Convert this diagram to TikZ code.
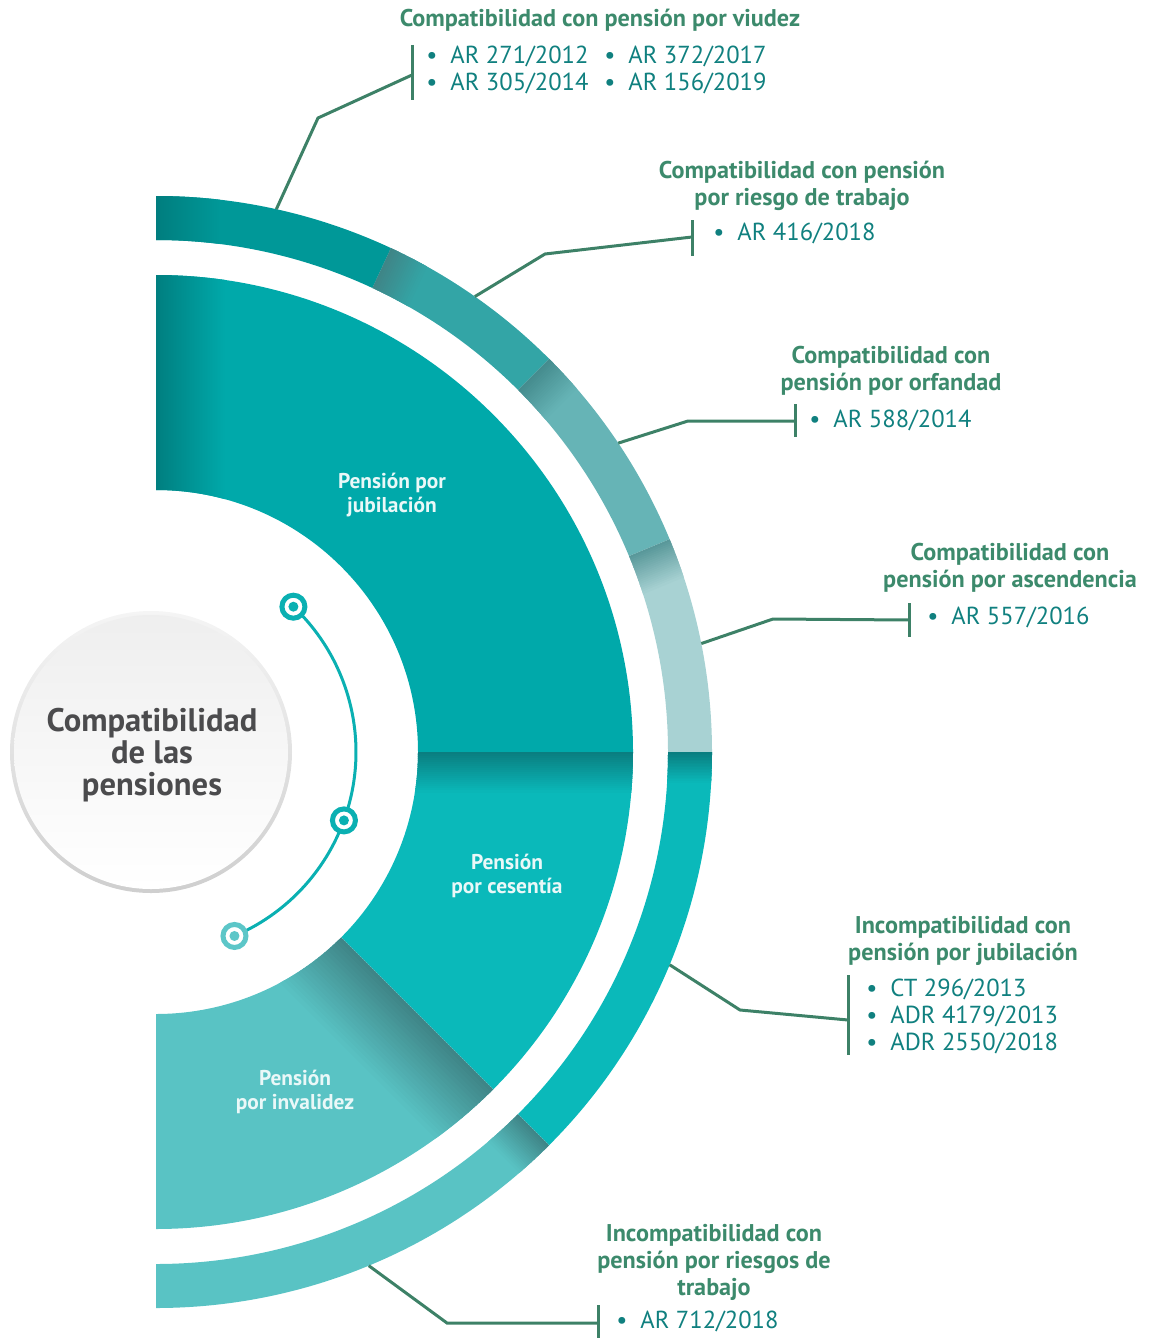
\documentclass[tikz,border=0pt]{standalone}
\usepackage{fontspec}
\setmainfont{PT Sans}
\usetikzlibrary{calc, positioning}

\definecolor{viudez}{HTML}{009898}
\definecolor{riesgo}{HTML}{33A5A6}
\definecolor{orfandad}{HTML}{66B4B6}
\definecolor{ascend}{HTML}{A8D2D3}
\definecolor{jubila}{HTML}{00A9AA}
\definecolor{cesan}{HTML}{0AB9BA}
\definecolor{invali}{HTML}{59C3C4}
\definecolor{deepteal}{HTML}{007B7C}
\definecolor{seamdark}{HTML}{0A7E80}
\definecolor{seamgray}{HTML}{3F8587}
\definecolor{leafgreen}{HTML}{3C8A6C}
\definecolor{codeteal}{HTML}{10807F}
\definecolor{wiregreen}{HTML}{3D8167}
\definecolor{knobteal}{HTML}{0AB0B2}
\definecolor{knoblight}{HTML}{5CC6C8}
\definecolor{coregray}{HTML}{4B4B4D}
\definecolor{wedgetext}{HTML}{EAF8F8}

\newcommand{\wedgepath}[4]{($(o)+(#1:#3)$) arc[start angle=#1, end angle=#2, radius=#3]
    -- ($(o)+(#2:#4)$) arc[start angle=#2, end angle=#1, radius=#4] -- cycle}
\newcommand{\segment}[6]{
    \fill[#6] \wedgepath{#2}{#3}{#4}{#5};
    \coordinate (#1-m) at ($(o)+({(#2+#3)/2}:#5)$);
}
% soft shadow along a seam, drawn as thin strips
\newcommand{\seamshade}[8]{
    \begin{scope}
        \clip \wedgepath{#1}{#2}{#3}{#4};
        \begin{scope}[shift={(o)}, rotate=#5]
            \foreach \i in {0,...,19}{
                \pgfmathsetmacro{\p}{100-\i*5}
                \fill[#7!\p!#8] (#3-20,{-\i*#6/20}) rectangle (#4+20,{-(\i+1)*#6/20-0.6});
            }
        \end{scope}
    \end{scope}
}
\newcommand{\leader}[5]{
    \coordinate (#1-k) at (#2);
    \coordinate (#1-u) at (#3);
    \coordinate (#1-d) at (#4);
    \coordinate (#1-j) at (#5);
    \draw[wire] (#1-u) -- (#1-d);
    \draw[wire] (#1-m) -- (#1-k) -- (#1-j);
}
\newcommand{\bul}{\makebox[12pt][l]{\textbullet}}

\begin{document}
\begin{tikzpicture}[x=0.5pt, y=0.5pt,
    wire/.style={draw=wiregreen, line width=1.5pt},
    heading/.style={text=leafgreen, font=\bfseries\fontsize{12.1}{13.5}\selectfont, align=center, inner sep=0pt},
    code/.style={text=codeteal, font=\fontsize{12.3}{13.5}\selectfont, align=left, anchor=west, inner sep=0pt},
    wedgelabel/.style={text=wedgetext, font=\bfseries\fontsize{10.7}{12}\selectfont, align=center, inner sep=0pt},
    knob/.style={circle, draw=#1, fill=white, line width=2.5pt, minimum size=11.5pt, inner sep=0pt,
        path picture={\fill[#1] (path picture bounding box.center) circle[radius=2.5pt];}}]
\useasboundingbox (0,0) rectangle (1152,-1338);
\coordinate (o) at (156,-752);

% inner wedges
\segment{jub}{90}{0}{262}{477}{jubila}
\segment{ces}{0}{-45}{262}{477}{cesan}
\segment{inv}{-45}{-90}{262}{477}{invali}
\begin{scope}
    \clip \wedgepath{90}{0}{262}{477};
    \shade[left color=deepteal, right color=jubila] (150,-270) rectangle (225,-760);
\end{scope}
\seamshade{0}{-45}{262}{477}{0}{40}{seamdark}{cesan}
\seamshade{-45}{-90}{262}{477}{-45}{75}{seamgray}{invali}

% outer ring
\segment{viu}{90}{65}{512}{556}{viudez}
\segment{rie}{65}{45}{512}{556}{riesgo}
\segment{orf}{45}{22.5}{512}{556}{orfandad}
\segment{asc}{22.5}{0}{512}{556}{ascend}
\segment{inj}{0}{-45}{512}{556}{cesan}
\segment{inr}{-45}{-90}{512}{556}{invali}
\begin{scope}
    \clip \wedgepath{90}{65}{512}{556};
    \shade[left color=deepteal, right color=viudez] (150,-190) rectangle (220,-250);
\end{scope}
\seamshade{65}{45}{512}{556}{65}{40}{seamgray}{riesgo}
\seamshade{45}{22.5}{512}{556}{45}{40}{seamgray!85!orfandad}{orfandad}
\seamshade{22.5}{0}{512}{556}{22.5}{40}{seamgray!75!ascend}{ascend}
\seamshade{0}{-45}{512}{556}{0}{30}{seamdark}{cesan}
\seamshade{-45}{-90}{512}{556}{-45}{40}{seamgray}{invali}

\node[wedgelabel] (jub-t) at (392,-495) {Pensión por\\jubilación};
\node[wedgelabel] (ces-t) at (507,-876) {Pensión\\por cesentía};
\node[wedgelabel] (inv-t) at (295,-1092) {Pensión\\por invalidez};

% centre
\coordinate (core-c) at (151,-752);
\shade[top color=gray!8, bottom color=gray!38] (core-c) circle[radius=141];
\shade[shading angle=-45, top color=gray!13, bottom color=white] (core-c) circle[radius=137];
\node[text=coregray, font=\bfseries\fontsize{16.3}{16}\selectfont, align=center] (core) at (152,-755)
    {Compatibilidad\\de las\\pensiones};

\draw[knobteal, line width=1.5pt] ($(o)+(46.6:200)$) arc[start angle=46.6, end angle=-66.9, radius=200];
\node[knob=knobteal] (knob-1) at ($(o)+(46.6:200)$) {};
\node[knob=knobteal] (knob-2) at ($(o)+(-20:200)$) {};
\node[knob=knoblight] (knob-3) at ($(o)+(-66.9:200)$) {};

% callouts
\node[heading] (viu-t) at (600,-20) {Compatibilidad con pensión por viudez};
\node[code] (viu-a) at (426,-70) {\bul AR 271/2012\\\bul AR 305/2014};
\node[code] (viu-b) at (604,-70) {\bul AR 372/2017\\\bul AR 156/2019};
\leader{viu}{318,-118}{412,-45}{412,-100}{412,-75}

\node[heading] (rie-t) at (802,-186) {Compatibilidad con pensión\\por riesgo de trabajo};
\node[code] (rie-a) at (713,-233) {\bul AR 416/2018};
\leader{rie}{545,-254}{692,-220}{692,-256}{692,-237}

\node[heading] (orf-t) at (891,-371) {Compatibilidad con\\pensión por orfandad};
\node[code] (orf-a) at (809,-420) {\bul AR 588/2014};
\leader{orf}{688,-421}{795,-404}{795,-437}{795,-421}

\node[heading] (asc-t) at (1010,-568) {Compatibilidad con\\pensión por ascendencia};
\node[code] (asc-a) at (927,-617) {\bul AR 557/2016};
\leader{asc}{773,-619}{909,-603}{909,-637}{909,-620}

\node[heading] (inj-t) at (963,-941) {Incompatibilidad con\\pensión por jubilación};
\node[code] (inj-a) at (866,-1016) {\bul CT 296/2013\\\bul ADR 4179/2013\\\bul ADR 2550/2018};
\leader{inj}{740,-1010}{848,-975}{848,-1055}{848,-1020}

\node[heading] (inr-t) at (714,-1262) {Incompatibilidad con\\pensión por riesgos de\\trabajo};
\node[code] (inr-a) at (616,-1321) {\bul AR 712/2018};
\leader{inr}{447,-1323}{598,-1305}{598,-1338}{598,-1323}
\end{tikzpicture}
\end{document}
